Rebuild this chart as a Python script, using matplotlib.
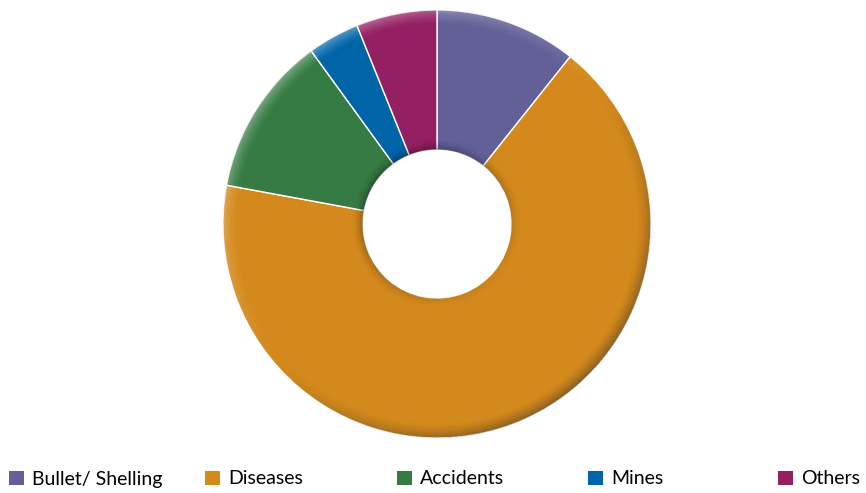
import matplotlib
matplotlib.use("Agg")
import matplotlib.pyplot as plt
from matplotlib.patches import Patch, Circle
import numpy as np

categories = ["Bullet/ Shelling", "Diseases", "Accidents", "Mines", "Others"]
values = [10.7, 67.2, 12.1, 3.9, 6.1]
colors = ["#636098", "#D4891C", "#367B43", "#0064A8", "#941F62"]

W, H = 866, 493
fig = plt.figure(figsize=(W / 100, H / 100), dpi=100)
fig.patch.set_facecolor("white")

cx, cy, R = 437, 224, 214
ax = fig.add_axes([(cx - R) / W, (H - cy - R) / H, 2 * R / W, 2 * R / H])
ax.axis("off")

inner = 74 / R
wedges, _ = ax.pie(values, colors=colors, startangle=90, counterclock=False,
                   radius=1.0, wedgeprops=dict(width=1 - inner, edgecolor="white", linewidth=1.0),
                   frame=False)
for w in wedges:
    w.set_zorder(2)

# bevel shading overlay: darker rim toward bottom-right, lighter toward top-left
n = 800
g = np.linspace(-1, 1, n)
X, Y = np.meshgrid(g, g)
r = np.hypot(X, Y)
ang = np.arctan2(Y, X)
dir_ = np.cos(ang - np.deg2rad(-50))  # +1 at bottom-right
edge = np.clip(1 - (1 - r) / 0.07, 0, 1) ** 1.5
rgba = np.zeros((n, n, 4))
dark = np.clip(dir_, 0, 1) * edge * 0.45
light = np.clip(-dir_, 0, 1) * edge * 0.35
rgba[..., :3] = np.where((dir_ > 0)[..., None], 0.15, 1.0)
rgba[..., 3] = np.where(dir_ > 0, dark, light)
rgba[r > 1] = 0
ax.imshow(rgba, extent=(-1, 1, -1, 1), origin="lower", zorder=3, interpolation="bilinear")

# inner hole shadow
inner_edge = np.clip(1 - (r - inner) / 0.06, 0, 1) * (r >= inner)
rgba2 = np.zeros((n, n, 4))
rgba2[..., 3] = inner_edge ** 2 * 0.35 * np.clip(0.6 - 0.4 * dir_, 0, 1)
ax.imshow(rgba2, extent=(-1, 1, -1, 1), origin="lower", zorder=4, interpolation="bilinear")
ax.add_patch(Circle((0, 0), inner, facecolor="white", lw=0, zorder=5))
ax.set_xlim(-1.0, 1.0)
ax.set_ylim(-1.0, 1.0)
ax.set_aspect("equal")

# legend: evenly spaced entries
starts = [9, 205, 397, 588, 778]
for i, (lab, col) in enumerate(zip(categories, colors)):
    x0 = starts[i]
    fig.legend(handles=[Patch(facecolor=col, edgecolor="none")], labels=[lab],
               loc="center left", bbox_to_anchor=(x0 / W, 14 / H),
               frameon=False, handlelength=0.75, handleheight=0.75, handletextpad=0.45,
               borderpad=0, borderaxespad=0,
               prop=dict(family="Lato", size=14))

fig.savefig("out.png", dpi=100, facecolor="white")
